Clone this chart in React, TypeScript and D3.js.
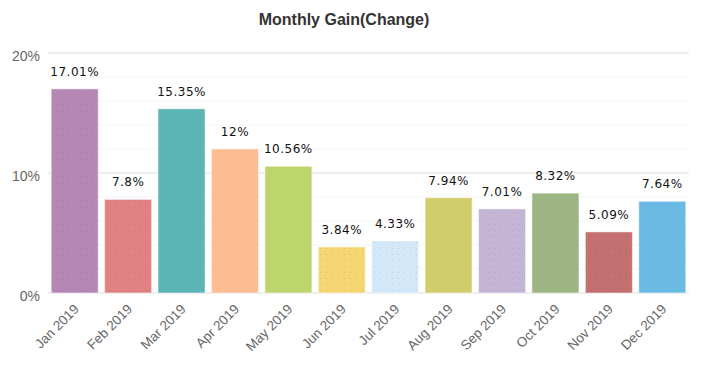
import React from "react";
import * as d3 from "d3";

const categories = ["Jan 2019","Feb 2019","Mar 2019","Apr 2019","May 2019","Jun 2019","Jul 2019","Aug 2019","Sep 2019","Oct 2019","Nov 2019","Dec 2019"];
const values = [17.01, 7.8, 15.35, 12, 10.56, 3.84, 4.33, 7.94, 7.01, 8.32, 5.09, 7.64];
const colors = ["#b587b5","#e08283","#5bb5b5","#fdbc92","#bdd56c","#f6d673","#d3e8f8","#d2cd6c","#c4b4d6","#9db583","#c46f70","#6abae4"];
const dotted = [true, true, false, false, false, true, true, false, true, false, true, false];
const yTicks = [0, 10, 20];
const minorTicks = [2, 4, 6, 8, 12, 14, 16, 18];

export default function App() {
  const W = 707, H = 378;
  const left = 48, right = 689, top = 53, bottom = 293;
  const x = d3.scaleBand<string>().domain(categories).range([left, right]).paddingInner(0.12).paddingOuter(0.06);
  const y = d3.scaleLinear().domain([0, 20]).range([bottom, top]);
  return (
    <svg width={W} height={H} style={{ position: "absolute", left: 0, top: 0, fontFamily: "Arial, 'Liberation Sans', sans-serif" }}>
      <defs>
        <pattern id="dots" width="6" height="6" patternUnits="userSpaceOnUse">
          <rect x="2" y="2" width="1" height="1" fill="rgba(0,0,0,0.1)" />
        </pattern>
      </defs>
      <rect width={W} height={H} fill="#fff" />
      <text x={344} y={25} textAnchor="middle" fontSize={16} fontWeight="bold" fill="#333">Monthly Gain(Change)</text>
      {minorTicks.map(t => (
        <line key={"m" + t} x1={left} x2={right} y1={y(t)} y2={y(t)} stroke="#f5f5f5" strokeWidth={1} />
      ))}
      {yTicks.map(t => (
        <g key={t}>
          <line x1={left} x2={right} y1={y(t)} y2={y(t)} stroke="#e8e8e8" strokeWidth={1.5} />
          <text x={40} y={y(t) + 8} textAnchor="end" fontSize={14} fill="#666">{t}%</text>
        </g>
      ))}
      {categories.map((c, i) => {
        const bx = x(c)!, bw = x.bandwidth();
        const by = y(values[i]);
        return (
          <g key={c}>
            <rect x={bx} y={by} width={bw} height={bottom - by} fill={colors[i]} stroke="rgba(255,255,255,0.5)" strokeWidth={1} />
            {dotted[i] && <rect x={bx} y={by} width={bw} height={bottom - by} fill="url(#dots)" />}
            <text x={bx + bw / 2} y={by - 13} textAnchor="middle" fontSize={12} fill="#111" fontFamily="'DejaVu Sans', Verdana, sans-serif" letterSpacing={0.5}>{values[i]}%</text>
            <text transform={`translate(${bx + bw / 2 + 5},${bottom + 17}) rotate(-45)`} textAnchor="end" fontSize={13.5} fill="#666">{c}</text>
          </g>
        );
      })}
    </svg>
  );
}
